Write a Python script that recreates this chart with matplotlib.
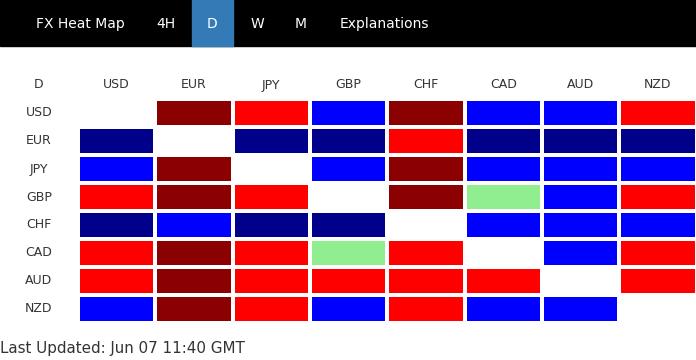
import numpy as np
import matplotlib.pyplot as plt
from matplotlib.colors import ListedColormap
from matplotlib.patches import Rectangle

currencies = ['USD', 'EUR', 'JPY', 'GBP', 'CHF', 'CAD', 'AUD', 'NZD']
menu_items = ['FX Heat Map', '4H', 'D', 'W', 'M', 'Explanations']
active_tab = 'D'
updated = 'Last Updated: Jun 07 11:40 GMT'

# 0 = same pair, 1 = strong down, 2 = down, 3 = flat, 4 = up, 5 = strong up
usd = [0, 5, 4, 2, 5, 2, 2, 4]
eur = [1, 0, 1, 1, 4, 1, 1, 1]
jpy = [2, 5, 0, 2, 5, 2, 2, 2]
gbp = [4, 5, 4, 0, 5, 3, 2, 4]
chf = [1, 2, 1, 1, 0, 2, 2, 2]
cad = [4, 5, 4, 3, 4, 0, 2, 4]
aud = [4, 5, 4, 4, 4, 4, 0, 4]
nzd = [2, 5, 4, 2, 4, 2, 2, 0]

W, H = 696, 360
fig = plt.figure(figsize=(W / 100, H / 100), dpi=100)

def fx(px):
    return px / W

def fy(py):
    return 1 - py / H

# top menu bar
fig.patches.append(Rectangle((0, fy(46)), 1, 46 / H, transform=fig.transFigure,
                             color='black', zorder=0))
menu_x = [80, 166, 212, 257, 301, 384]
for name, x in zip(menu_items, menu_x):
    if name == active_tab:
        fig.patches.append(Rectangle((fx(192), fy(46)), 41 / W, 46 / H,
                                     transform=fig.transFigure, color='#337ab7', zorder=1))
    fig.text(fx(x), fy(24), name, color='white', fontsize=10, ha='center', va='center')

# heat map grid
left, right, top, bottom = 78, 696.5, 99, 323
ax = fig.add_axes([fx(left), fy(bottom), (right - left) / W, (bottom - top) / H])
Z = np.array([usd, eur, jpy, gbp, chf, cad, aud, nzd])
cmap = ListedColormap(['white', '#00008b', '#0000ff', '#90ee90', '#ff0000', '#8b0000'])
ax.pcolormesh(Z, cmap=cmap, vmin=-0.5, vmax=5.5, edgecolors='white', linewidth=1.5)
ax.set_xlim(0, 8)
ax.set_ylim(8, 0)
ax.axis('off')

txt = '#333333'
fig.text(fx(39), fy(85), 'D', color=txt, fontsize=9, ha='center', va='center')
pitch = (right - left) / 8
for i, c in enumerate(currencies):
    fig.text(fx(left + pitch * (i + 0.5)), fy(85), c, color=txt, fontsize=9,
             ha='center', va='center')
    fig.text(fx(39), fy(113 + 28 * i), c, color=txt, fontsize=9, ha='center', va='center')

fig.text(fx(0), fy(348), updated, color=txt, fontsize=10.9, ha='left', va='center')

fig.savefig('out.png', dpi=100, facecolor='white')
